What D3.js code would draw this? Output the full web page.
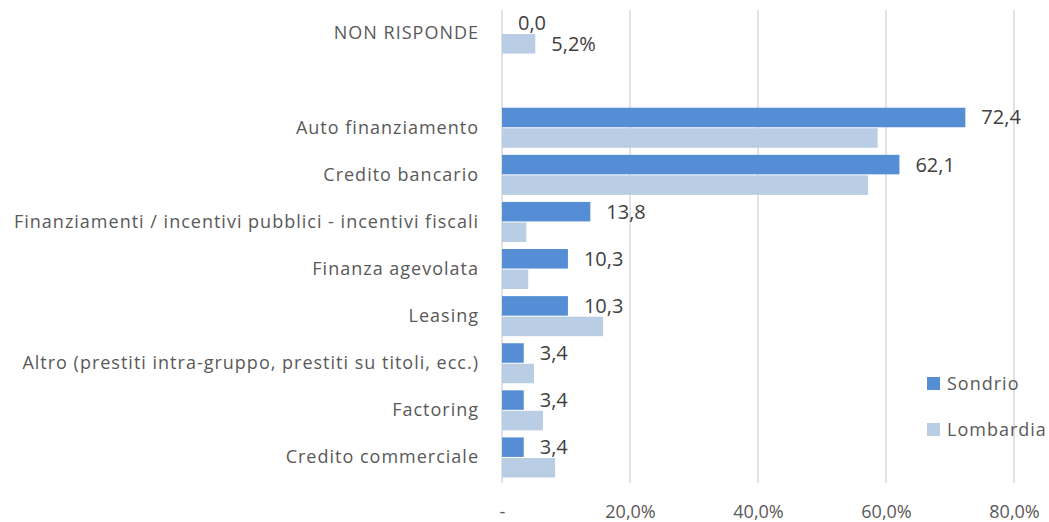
<!DOCTYPE html>
<html>
<head>
<meta charset="utf-8">
<script src="https://cdn.jsdelivr.net/npm/d3@7"></script>
<style>
  body { margin: 0; background: #fff; }
  text { font-family: "Open Sans", sans-serif; fill: #595959; font-size: 18px; }
</style>
</head>
<body>
<div id="vis"></div>
<script>
// categories from top to bottom (one empty slot after NON RISPONDE)
var categories = [
  "NON RISPONDE",
  "",
  "Auto finanziamento",
  "Credito bancario",
  "Finanziamenti / incentivi pubblici - incentivi fiscali",
  "Finanza agevolata",
  "Leasing",
  "Altro (prestiti intra-gruppo, prestiti su titoli, ecc.)",
  "Factoring",
  "Credito commerciale"
];
var series = ["Sondrio", "Lombardia"];
var sondrio = [0.0, null, 72.4, 62.1, 13.8, 10.3, 10.3, 3.4, 3.4, 3.4];
var lombardia = [5.2, null, 58.7, 57.2, 3.8, 4.1, 15.8, 5.0, 6.4, 8.3];
var xTicks = [0, 20, 40, 60, 80];
var colors = {Sondrio: "#558ed5", Lombardia: "#b9cde5"};

var width = 1049, height = 522;
var margin = {top: 10, right: 35, bottom: 41, left: 502};

var svg = d3.select("#vis").append("svg")
    .attr("width", width)
    .attr("height", height);

var x = d3.scaleLinear()
    .domain([0, 80])
    .range([margin.left, width - margin.right]);

var keys = categories.map(function(d, i) { return i; });
var y = d3.scaleBand()
    .domain(keys)
    .range([margin.top, height - margin.bottom])
    .paddingInner(0.15)
    .paddingOuter(0.075);

var y1 = d3.scaleBand()
    .domain(series)
    .range([0, y.bandwidth()])
    .paddingInner(0.05);

// gridlines
svg.append("g")
    .selectAll("line")
    .data(xTicks)
    .enter().append("line")
    .attr("x1", function(d) { return x(d); })
    .attr("x2", function(d) { return x(d); })
    .attr("y1", margin.top)
    .attr("y2", height - margin.bottom + 2)
    .attr("stroke", "#d9d9d9")
    .attr("stroke-width", 1.5);

// x axis labels
svg.append("g")
    .attr("transform", "translate(0," + (height - margin.bottom) + ")")
    .call(d3.axisBottom(x).tickValues(xTicks).tickSize(0).tickPadding(24)
      .tickFormat(function(d) { return d === 0 ? "-" : d.toFixed(1).replace(".", ",") + "%"; }))
    .call(function(g) { g.select(".domain").remove(); })
    .selectAll("text")
    .style("font-size", "18px")
    .style("font-family", "'Open Sans', sans-serif")
    .attr("fill", "#595959");

// category labels
svg.append("g")
    .attr("transform", "translate(" + (margin.left - 23) + ",0)")
    .call(d3.axisLeft(y).tickSize(0).tickPadding(0)
      .tickFormat(function(i) { return categories[i]; }))
    .call(function(g) { g.select(".domain").remove(); })
    .selectAll("text")
    .style("font-size", "18px")
    .style("letter-spacing", "1px")
    .style("font-family", "'Open Sans', sans-serif")
    .attr("fill", "#595959");

var rows = categories.map(function(c, i) {
  return {i: i, values: [
    {key: "Sondrio", value: sondrio[i]},
    {key: "Lombardia", value: lombardia[i]}
  ]};
}).filter(function(r) { return r.values[0].value !== null; });

var groups = svg.append("g")
    .selectAll("g")
    .data(rows)
    .enter().append("g")
    .attr("transform", function(d) { return "translate(0," + y(d.i) + ")"; });

groups.selectAll("rect")
    .data(function(d) { return d.values; })
    .enter().append("rect")
    .attr("x", x(0))
    .attr("y", function(d) { return y1(d.key); })
    .attr("height", y1.bandwidth())
    .attr("width", function(d) { return x(d.value) - x(0); })
    .attr("fill", function(d) { return colors[d.key]; });

// value labels: Sondrio on every bar, Lombardia only on the first row
groups.selectAll("text.val")
    .data(function(d) {
      return d.values.filter(function(v) { return v.key === "Sondrio" || d.i === 0; });
    })
    .enter().append("text")
    .attr("class", "val")
    .attr("x", function(d) { return x(d.value) + 16; })
    .attr("y", function(d) { return y1(d.key) + y1.bandwidth() / 2; })
    .attr("dy", "0.35em")
    .style("font-size", "20px")
    .style("fill", "#404040")
    .text(function(d) {
      var s = d.value.toFixed(1).replace(".", ",");
      return d.key === "Lombardia" ? s + "%" : s;
    });

// legend
var legend = svg.append("g")
    .selectAll("g")
    .data(series)
    .enter().append("g")
    .attr("transform", function(d, i) { return "translate(927," + (377 + i * 46) + ")"; });

legend.append("rect")
    .attr("width", 13)
    .attr("height", 13)
    .attr("fill", function(d) { return colors[d]; });

legend.append("text")
    .attr("x", 20)
    .attr("y", 7)
    .attr("dy", "0.35em")
    .style("letter-spacing", "1px")
    .text(function(d) { return d; });
</script>
</body>
</html>
